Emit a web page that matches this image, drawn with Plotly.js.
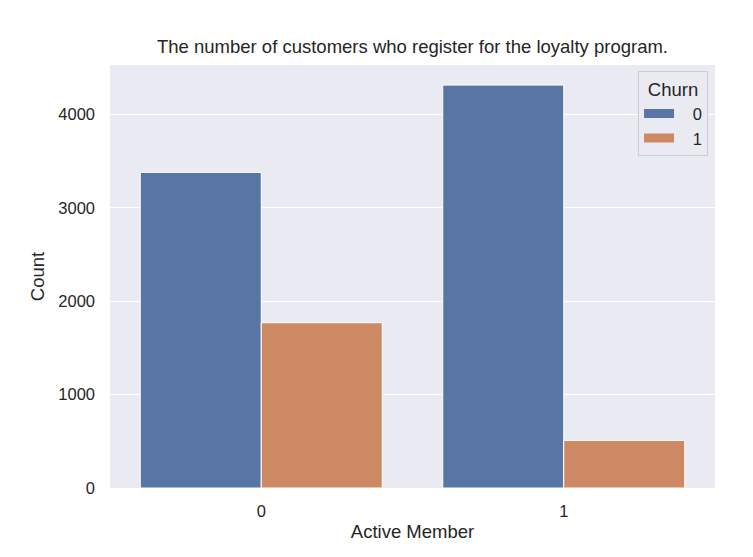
<!DOCTYPE html>
<html>
<head>
<meta charset="utf-8">
<script src="https://cdn.plot.ly/plotly-3.0.1.min.js"></script>
<style>html,body{margin:0;padding:0;background:#fff;}</style>
</head>
<body>
<div id="chart" style="width:753px;height:557px;"></div>
<script>
const categories = ["0", "1"];
const churn0 = [3380, 4315];
const churn1 = [1770, 510];
const seriesNames = ["0", "1"];
const seriesColors = ["#5975a4", "#cc8963"];
const yTicks = [0, 1000, 2000, 3000, 4000];

const font = "Liberation Sans, Arial, sans-serif";
const seriesValues = [churn0, churn1];
const data = [];
seriesValues.forEach((vals, i) => {
  data.push({type: "bar", name: seriesNames[i], x: categories, y: vals, showlegend: false,
             marker: {color: seriesColors[i], line: {color: "#ffffff", width: 1}}});
});
// legend entries (wide rectangular swatches as in the reference)
seriesNames.forEach((nm, i) => {
  data.push({type: "scatter", mode: "lines", name: "\u00a0\u00a0\u00a0" + nm, x: [null], y: [null],
             line: {color: seriesColors[i], width: 9}, hoverinfo: "skip"});
});

const layout = {
  width: 753, height: 557,
  margin: {l: 110, r: 38, t: 65, b: 69},
  paper_bgcolor: "#ffffff", plot_bgcolor: "#eaeaf2",
  font: {family: font, size: 16.5, color: "#262626"},
  barmode: "group", bargap: 0.2, bargroupgap: 0,
  title: {text: "The number of customers who register for the loyalty program.",
          font: {family: font, size: 18.5, color: "#262626"},
          x: 0.5, xref: "paper", xanchor: "center", y: 0.917, yanchor: "middle"},
  xaxis: {type: "category", title: {text: "Active Member", font: {size: 18.5}, standoff: 6},
          showgrid: false, zeroline: false, ticks: "", showline: false,
          ticklabelstandoff: 11, tickfont: {size: 16.5}},
  yaxis: {range: [0, 4530], title: {text: "Count", font: {size: 18.5}, standoff: 8},
          tickvals: yTicks, ticks: "", showline: false, ticklabelstandoff: 14,
          gridcolor: "#ffffff", gridwidth: 1.2, zeroline: false, tickfont: {size: 16.5}},
  legend: {title: {text: "Churn", font: {size: 18.5}, side: "top center"},
           x: 0.9885, xanchor: "right", y: 0.985, yanchor: "top",
           bgcolor: "#eaeaf2", bordercolor: "#cccccc", borderwidth: 1,
           font: {size: 16.5}, traceorder: "normal", itemwidth: 30},
  showlegend: true
};
Plotly.newPlot("chart", data, layout, {displayModeBar: false, staticPlot: true});
</script>
</body>
</html>
